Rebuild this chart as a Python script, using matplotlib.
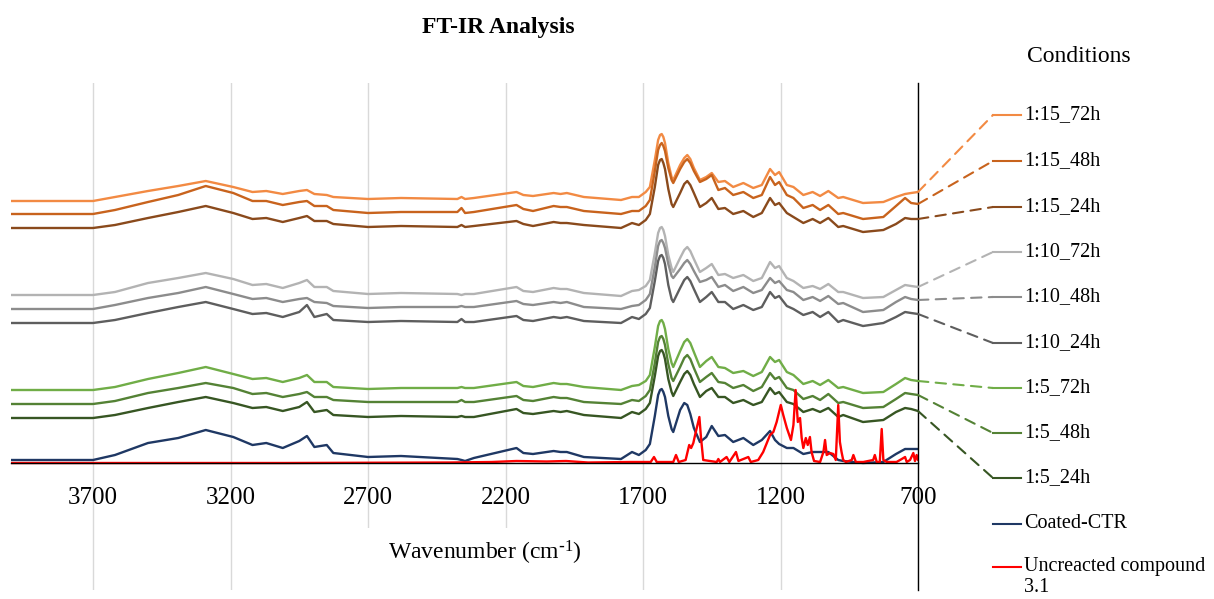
import matplotlib
matplotlib.use('Agg')
import matplotlib.pyplot as plt
from matplotlib.lines import Line2D
from matplotlib.patches import ConnectionPatch, Rectangle

plt.rcParams['font.family'] = ['Liberation Serif', 'DejaVu Serif']
plt.rcParams['mathtext.default'] = 'regular'

# wavenumbers (cm-1) shared by the coated samples
wavenumber = [4000, 3700, 3620, 3500, 3390, 3290, 3190, 3120, 3070, 3010, 2950, 2922, 2895,
              2850, 2826, 2700, 2580, 2375, 2360, 2347, 2315, 2160, 2135, 2100, 2025, 2000,
              1977, 1915, 1780, 1740, 1715, 1690,
              1675, 1657, 1645, 1638, 1632, 1626, 1620, 1608, 1596, 1590, 1565, 1550, 1539, 1528, 1515,
              1493, 1470, 1450, 1426, 1402, 1372, 1335, 1299, 1268,
              1238, 1220, 1205, 1177, 1153, 1117, 1083, 1056, 1026, 990, 972, 900, 826, 780,
              747, 725, 700]

r15_72h = [2.62, 2.62, 2.66, 2.72, 2.77, 2.82, 2.76, 2.71, 2.72, 2.69, 2.72, 2.73, 2.69,
           2.68, 2.66, 2.64, 2.65, 2.64, 2.66, 2.64, 2.65, 2.71, 2.68, 2.67, 2.70, 2.69,
           2.70, 2.66, 2.63, 2.66, 2.66, 2.71,
           2.76, 3.03, 3.23, 3.28, 3.29, 3.26, 3.20, 3.00, 2.86, 2.83, 2.98, 3.05, 3.08, 3.04, 2.95,
           2.83, 2.86, 2.90, 2.81, 2.82, 2.76, 2.80, 2.75, 2.78,
           2.94, 2.88, 2.91, 2.78, 2.76, 2.68, 2.71, 2.67, 2.72, 2.65, 2.66, 2.60, 2.61, 2.66,
           2.69, 2.70, 2.71]
r15_48h = [2.49, 2.49, 2.53, 2.61, 2.68, 2.77, 2.70, 2.62, 2.62, 2.58, 2.61, 2.62, 2.57,
           2.57, 2.53, 2.50, 2.51, 2.51, 2.55, 2.50, 2.51, 2.58, 2.54, 2.52, 2.57, 2.56,
           2.56, 2.52, 2.49, 2.52, 2.52, 2.57,
           2.63, 2.92, 3.13, 3.18, 3.20, 3.17, 3.12, 2.95, 2.83, 2.80, 2.94, 3.01, 3.04, 3.00, 2.92,
           2.81, 2.84, 2.88, 2.73, 2.75, 2.68, 2.71, 2.65, 2.68,
           2.86, 2.78, 2.81, 2.68, 2.65, 2.55, 2.58, 2.53, 2.58, 2.49, 2.50, 2.44, 2.46, 2.57,
           2.65, 2.60, 2.59]
r15_24h = [2.35, 2.35, 2.38, 2.45, 2.51, 2.57, 2.50, 2.44, 2.45, 2.41, 2.45, 2.47, 2.42,
           2.42, 2.39, 2.36, 2.37, 2.36, 2.38, 2.36, 2.37, 2.42, 2.39, 2.37, 2.41, 2.40,
           2.40, 2.38, 2.35, 2.40, 2.38, 2.43,
           2.49, 2.76, 2.98, 3.03, 3.04, 3.00, 2.94, 2.74, 2.59, 2.56, 2.70, 2.79, 2.82, 2.78, 2.70,
           2.56, 2.60, 2.65, 2.54, 2.55, 2.49, 2.52, 2.46, 2.50,
           2.65, 2.58, 2.60, 2.50, 2.46, 2.40, 2.44, 2.40, 2.45, 2.36, 2.37, 2.31, 2.33, 2.39,
           2.45, 2.44, 2.44]
r10_72h = [1.68, 1.68, 1.71, 1.80, 1.85, 1.90, 1.84, 1.78, 1.79, 1.75, 1.80, 1.83, 1.76,
           1.76, 1.72, 1.69, 1.70, 1.69, 1.68, 1.69, 1.69, 1.76, 1.72, 1.71, 1.75, 1.74,
           1.74, 1.70, 1.67, 1.72, 1.73, 1.77,
           1.83, 2.10, 2.30, 2.35, 2.36, 2.33, 2.27, 2.08, 1.95, 1.91, 2.05, 2.13, 2.16, 2.12, 2.04,
           1.91, 1.95, 1.99, 1.88, 1.89, 1.85, 1.88, 1.82, 1.85,
           2.01, 1.95, 1.97, 1.85, 1.82, 1.75, 1.77, 1.74, 1.79, 1.71, 1.71, 1.65, 1.66, 1.73,
           1.78, 1.77, 1.76]
r10_48h = [1.54, 1.54, 1.58, 1.65, 1.70, 1.76, 1.69, 1.64, 1.65, 1.61, 1.64, 1.65, 1.61,
           1.60, 1.57, 1.55, 1.56, 1.56, 1.57, 1.56, 1.56, 1.62, 1.59, 1.58, 1.61, 1.60,
           1.61, 1.56, 1.54, 1.57, 1.58, 1.63,
           1.69, 1.96, 2.17, 2.22, 2.23, 2.20, 2.15, 1.99, 1.87, 1.85, 1.94, 2.00, 2.03, 1.99, 1.92,
           1.81, 1.83, 1.86, 1.76, 1.78, 1.72, 1.76, 1.70, 1.73,
           1.85, 1.80, 1.82, 1.73, 1.71, 1.63, 1.66, 1.62, 1.67, 1.59, 1.60, 1.51, 1.53, 1.61,
           1.66, 1.64, 1.63]
r10_24h = [1.40, 1.40, 1.43, 1.50, 1.56, 1.61, 1.54, 1.49, 1.50, 1.46, 1.51, 1.58, 1.46,
           1.49, 1.43, 1.41, 1.42, 1.41, 1.44, 1.41, 1.41, 1.47, 1.43, 1.42, 1.46, 1.45,
           1.46, 1.42, 1.40, 1.46, 1.44, 1.49,
           1.55, 1.82, 2.02, 2.07, 2.08, 2.05, 1.99, 1.78, 1.64, 1.61, 1.75, 1.83, 1.86, 1.82, 1.74,
           1.61, 1.66, 1.71, 1.61, 1.61, 1.54, 1.58, 1.53, 1.56,
           1.71, 1.65, 1.67, 1.57, 1.54, 1.48, 1.51, 1.46, 1.51, 1.41, 1.43, 1.37, 1.40, 1.46,
           1.51, 1.50, 1.49]
r5_72h = [0.73, 0.73, 0.76, 0.84, 0.90, 0.96, 0.89, 0.84, 0.85, 0.81, 0.85, 0.88, 0.81,
          0.81, 0.76, 0.74, 0.75, 0.75, 0.76, 0.75, 0.75, 0.81, 0.77, 0.76, 0.80, 0.79,
          0.79, 0.76, 0.73, 0.77, 0.78, 0.82,
          0.88, 1.16, 1.37, 1.42, 1.43, 1.40, 1.34, 1.14, 1.00, 0.96, 1.12, 1.21, 1.24, 1.20, 1.11,
          0.96, 1.02, 1.06, 0.96, 0.95, 0.90, 0.92, 0.87, 0.91,
          1.06, 1.01, 1.03, 0.91, 0.88, 0.79, 0.82, 0.78, 0.83, 0.75, 0.76, 0.70, 0.71, 0.79,
          0.85, 0.83, 0.82]
r5_48h = [0.59, 0.59, 0.62, 0.70, 0.75, 0.80, 0.75, 0.69, 0.70, 0.66, 0.69, 0.71, 0.66,
          0.66, 0.63, 0.61, 0.61, 0.61, 0.63, 0.61, 0.61, 0.67, 0.63, 0.62, 0.66, 0.65,
          0.65, 0.61, 0.59, 0.63, 0.62, 0.67,
          0.73, 1.00, 1.21, 1.26, 1.27, 1.24, 1.18, 0.99, 0.85, 0.82, 0.96, 1.05, 1.08, 1.04, 0.95,
          0.81, 0.86, 0.90, 0.81, 0.80, 0.75, 0.78, 0.72, 0.76,
          0.90, 0.84, 0.86, 0.75, 0.73, 0.64, 0.67, 0.63, 0.69, 0.60, 0.61, 0.55, 0.56, 0.64,
          0.70, 0.69, 0.68]
r5_24h = [0.45, 0.45, 0.48, 0.55, 0.61, 0.66, 0.60, 0.55, 0.56, 0.52, 0.56, 0.61, 0.51,
          0.53, 0.48, 0.46, 0.47, 0.46, 0.47, 0.46, 0.46, 0.54, 0.50, 0.49, 0.52, 0.51,
          0.52, 0.48, 0.45, 0.51, 0.49, 0.54,
          0.60, 0.87, 1.07, 1.12, 1.13, 1.10, 1.04, 0.84, 0.71, 0.67, 0.81, 0.89, 0.92, 0.88, 0.79,
          0.66, 0.72, 0.75, 0.66, 0.66, 0.60, 0.63, 0.58, 0.61,
          0.75, 0.69, 0.71, 0.61, 0.59, 0.51, 0.54, 0.51, 0.55, 0.46, 0.48, 0.41, 0.43, 0.51,
          0.55, 0.54, 0.52]
coated_ctr = [0.03, 0.03, 0.08, 0.20, 0.25, 0.33, 0.26, 0.18, 0.20, 0.15, 0.22, 0.27, 0.16,
              0.18, 0.10, 0.06, 0.07, 0.04, 0.03, 0.02, 0.05, 0.15, 0.10, 0.09, 0.12, 0.11,
              0.11, 0.06, 0.04, 0.11, 0.08, 0.13,
              0.19, 0.47, 0.68, 0.73, 0.74, 0.71, 0.66, 0.47, 0.34, 0.31, 0.53, 0.60, 0.58, 0.49, 0.35,
              0.21, 0.26, 0.37, 0.27, 0.28, 0.21, 0.25, 0.18, 0.23,
              0.32, 0.23, 0.19, 0.15, 0.15, 0.09, 0.11, 0.11, 0.11, 0.03, 0.02, 0.00, 0.01, 0.09,
              0.14, 0.14, 0.14]

# unreacted compound 3.1 (own wavenumber list, sharp bands)
compound_wn = [4000, 3000, 2400, 2250, 2160, 2050, 1980, 1900, 1747, 1672, 1660, 1650, 1590,
               1580, 1570, 1545, 1532, 1525, 1517, 1513, 1508, 1495, 1489, 1481, 1432, 1426,
               1420, 1396, 1386, 1362, 1353, 1317, 1308, 1281, 1263, 1238, 1226, 1214, 1199,
               1190, 1177, 1162, 1153, 1145, 1137, 1129, 1123, 1117, 1108, 1101, 1093, 1087,
               1078, 1056, 1044, 1038, 1032, 1020, 1008, 999, 990, 984, 978, 972, 962, 941,
               935, 926, 899, 863, 857, 850, 839, 832, 826, 814, 778, 759, 747, 741, 729, 717,
               711, 705, 700]
compound_abs = [0.00, 0.00, 0.005, 0.01, 0.02, 0.015, 0.02, 0.005, 0.01, 0.01, 0.06, 0.01, 0.01,
                0.08, 0.01, 0.03, 0.18, 0.15, 0.20, 0.25, 0.31, 0.46, 0.25, 0.03, 0.01, 0.04,
                0.01, 0.06, 0.01, 0.11, 0.02, 0.06, 0.01, 0.03, 0.11, 0.28, 0.31, 0.41, 0.58,
                0.48, 0.35, 0.23, 0.38, 0.73, 0.41, 0.45, 0.25, 0.15, 0.25, 0.18, 0.26, 0.11,
                0.02, 0.01, 0.11, 0.23, 0.08, 0.10, 0.09, 0.03, 0.58, 0.21, 0.11, 0.03, 0.01, 0.03,
                0.08, 0.01, 0.01, 0.03, 0.08, 0.01, 0.01, 0.34, 0.03, 0.01, 0.01, 0.04, 0.06, 0.01,
                0.03, 0.10, 0.02, 0.08, 0.03]

condition_names = ['1:15_72h', '1:15_48h', '1:15_24h', '1:10_72h', '1:10_48h', '1:10_24h',
                   '1:5_72h', '1:5_48h', '1:5_24h']
condition_values = [r15_72h, r15_48h, r15_24h, r10_72h, r10_48h, r10_24h, r5_72h, r5_48h, r5_24h]
condition_colors = ['#F28A43', '#C8631D', '#8A4A1C', '#B3B3B3', '#8C8C8C', '#5E5E5E',
                    '#70AD47', '#548235', '#375623']
ticks = [3700, 3200, 2700, 2200, 1700, 1200, 700]

W, H = 1214, 599
fig = plt.figure(figsize=(W / 100, H / 100), dpi=100)
ax = fig.add_axes([10.5 / W, 1 - 590 / H, 907.5 / W, 507 / H])

line_kw = dict(lw=1.7, solid_joinstyle='round', solid_capstyle='round')
for vals, col in zip(condition_values, condition_colors):
    ax.plot(wavenumber, vals, color=col, **line_kw)
ax.plot(wavenumber, coated_ctr, color='#1F3864', **line_kw)
ax.plot(compound_wn, compound_abs, color='#FF0000', **line_kw)

ax.set_xlim(4000, 700)
ax.set_ylim(-1.27, 3.80)
ax.set_xticks(ticks)
ax.set_yticks([])
ax.grid(axis='x', color='#D9D9D9', lw=1)
ax.set_axisbelow(True)
for s in ['left', 'top']:
    ax.spines[s].set_visible(False)
ax.spines['bottom'].set_position(('data', 0))
ax.spines['bottom'].set_linewidth(1)
ax.spines['right'].set_linewidth(1)
ax.tick_params(axis='x', length=0, pad=17, labelsize=18)

# axis title sits inside the plot area on a white box
ax.add_patch(Rectangle((0.385, 0.0), 0.265, 0.122, transform=ax.transAxes,
                       facecolor='white', edgecolor='none', zorder=1))
ax.text(0.523, 0.073, 'Wavenumber (cm$^{\\text{-}1}$)', transform=ax.transAxes,
        ha='center', va='center', fontsize=17, zorder=3)

fig.text(498 / W, 1 - 27 / H, 'FT-IR Analysis', ha='center', va='center', fontsize=17,
         fontweight='bold')
fig.text(1079 / W, 1 - 57 / H, 'Conditions', ha='center', va='center', fontsize=17)

# labels with leader lines
label_y = [115, 161, 207, 252, 297, 343, 388, 433, 478]
for name, vals, col, py in zip(condition_names, condition_values, condition_colors, label_y):
    fy = 1 - py / H
    con = ConnectionPatch(xyA=(700, vals[-1]), coordsA=ax.transData,
                          xyB=(993 / W, fy), coordsB=fig.transFigure,
                          color=col, lw=1.5, linestyle=(0, (5, 3.5)))
    fig.add_artist(con)
    fig.add_artist(Line2D([993 / W, 1021 / W], [fy, fy], color=col, lw=1.5))
    fig.text(1024 / W, fy, name, ha='left', va='center', fontsize=14.5)

for name, col, py in [('Coated-CTR', '#1F3864', 524), ('Uncreacted compound', '#FF0000', 567)]:
    fy = 1 - py / H
    fig.add_artist(Line2D([993 / W, 1021 / W], [fy, fy], color=col, lw=1.5))
    fig.text(1024 / W, fy, name, ha='left', va='center', fontsize=14.5)
fig.text(1024 / W, 1 - 588 / H, '3.1', ha='left', va='center', fontsize=14.5)

fig.savefig('out.png', dpi=100)
